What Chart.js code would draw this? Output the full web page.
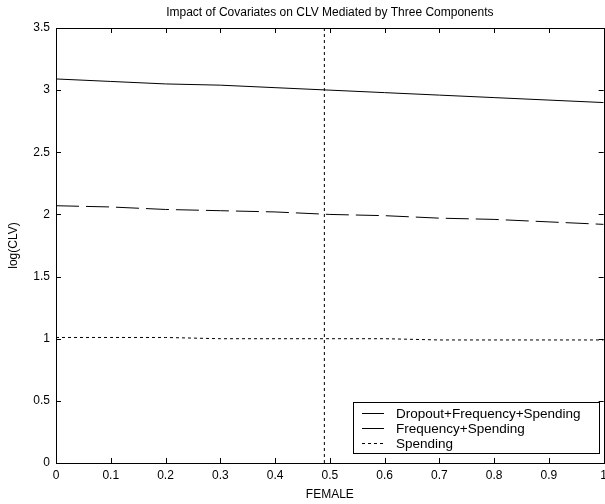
<!DOCTYPE html>
<html>
<head>
<meta charset="utf-8">
<script src="https://cdn.jsdelivr.net/npm/chart.js@4/dist/chart.umd.min.js"></script>
<style>
html,body{margin:0;padding:0;background:#fff;overflow:hidden;}
#wrap{position:absolute;left:0;top:0;width:612px;height:504px;}
</style>
</head>
<body>
<div id="wrap"><canvas id="c" width="612" height="504"></canvas></div>
<script>
// ---- data ----
const femaleValues = [0, 0.1, 0.2, 0.3, 0.4, 0.5, 0.6, 0.7, 0.8, 0.9, 1.0];
const dropoutFreqSpend = [3.09, 3.07, 3.05, 3.04, 3.02, 3.00, 2.98, 2.96, 2.94, 2.92, 2.90];
const freqSpend        = [2.07, 2.06, 2.04, 2.03, 2.02, 2.00, 1.99, 1.97, 1.96, 1.94, 1.92];
const spending         = [1.01, 1.01, 1.01, 1.00, 1.00, 1.00, 1.00, 0.99, 0.99, 0.99, 0.99];
const seriesNames = ['Dropout+Frequency+Spending', 'Frequency+Spending', 'Spending'];
const markerX = [0.49, 0.49];
const markerY = [0, 3.5];
const xTickLabels = ['0','0.1','0.2','0.3','0.4','0.5','0.6','0.7','0.8','0.9','1'];
const yTickLabels = ['0','0.5','1','1.5','2','2.5','3','3.5'];
const titleText = 'Impact of Covariates on CLV Mediated by Three Components';
const xTitle = 'FEMALE';
const yTitle = 'log(CLV)';

const toXY = (xs, ys) => xs.map((x, i) => ({x: x, y: ys[i]}));
const FONT = '"Liberation Sans", Arial, sans-serif';
Chart.defaults.color = '#000';
Chart.defaults.font.family = FONT;
Chart.defaults.font.size = 12;

const frameAndLegend = {
  id: 'frameAndLegend',
  afterDatasetsDraw(chart) {
    const {ctx, chartArea: a, scales: {x, y}} = chart;
    ctx.save();
    ctx.strokeStyle = '#000';
    ctx.lineWidth = 1;
    ctx.setLineDash([]);
    // frame
    ctx.strokeRect(Math.round(a.left) + 0.5, Math.round(a.top) + 0.5,
                   Math.round(a.right - a.left), Math.round(a.bottom - a.top));
    // inward ticks
    const tl = 5;
    ctx.beginPath();
    x.ticks.forEach(t => {
      const px = Math.round(x.getPixelForValue(t.value)) + 0.5;
      ctx.moveTo(px, a.bottom); ctx.lineTo(px, a.bottom - tl);
      ctx.moveTo(px, a.top); ctx.lineTo(px, a.top + tl);
    });
    y.ticks.forEach(t => {
      const py = Math.round(y.getPixelForValue(t.value)) + 0.5;
      ctx.moveTo(a.left, py); ctx.lineTo(a.left + tl, py);
      ctx.moveTo(a.right, py); ctx.lineTo(a.right - tl, py);
    });
    ctx.stroke();
    // legend box
    const bx = 353.5, by = 402.5, bw = 246, bh = 51;
    ctx.fillStyle = '#fff';
    ctx.fillRect(bx, by, bw, bh);
    ctx.strokeRect(bx, by, bw, bh);
    ctx.font = '13.5px ' + FONT;
    ctx.textBaseline = 'middle';
    ctx.textAlign = 'left';
    const rows = [413.5, 428.5, 443.5];
    chart.data.datasets.forEach((ds, i) => {
      if (ds.hideInLegend) return;
      ctx.setLineDash(ds.borderDash || []);
      ctx.beginPath();
      ctx.moveTo(362, rows[i]); ctx.lineTo(384, rows[i]);
      ctx.stroke();
      ctx.setLineDash([]);
      ctx.fillStyle = '#000';
      ctx.fillText(ds.label, 396, rows[i] + 0.5);
    });
    ctx.restore();
  }
};

new Chart(document.getElementById('c'), {
  type: 'line',
  data: {
    datasets: [
      {label: seriesNames[0], data: toXY(femaleValues, dropoutFreqSpend),
       borderColor: '#000', borderWidth: 1, pointRadius: 0, borderDash: []},
      {label: seriesNames[1], data: toXY(femaleValues, freqSpend),
       borderColor: '#000', borderWidth: 1, pointRadius: 0, borderDash: [23, 7]},
      {label: seriesNames[2], data: toXY(femaleValues, spending),
       borderColor: '#000', borderWidth: 1, pointRadius: 0, borderDash: [3, 3]},
      {label: 'marker', data: toXY(markerX, markerY), hideInLegend: true,
       borderColor: '#000', borderWidth: 1, pointRadius: 0, borderDash: [3, 3]}
    ]
  },
  options: {
    responsive: false,
    animation: false,
    layout: {padding: {left: 0, right: 6, top: 0, bottom: 0}},
    plugins: {
      legend: {display: false},
      tooltip: {enabled: false},
      title: {display: true, text: titleText, fullSize: false,
              font: {size: 12, weight: 'normal'}, color: '#000',
              padding: {top: 5, bottom: 8.6}}
    },
    scales: {
      x: {
        type: 'linear', min: 0, max: 1,
        grid: {display: false, drawTicks: false},
        border: {display: false},
        ticks: {stepSize: 0.1, padding: 5, maxRotation: 0, autoSkip: false,
                callback: (v, i) => xTickLabels[i]},
        title: {display: true, text: xTitle, padding: {top: 0, bottom: 2.5}},
        afterFit: s => { s.height = 41; }
      },
      y: {
        type: 'linear', min: 0, max: 3.5,
        grid: {display: false, drawTicks: false},
        border: {display: false},
        ticks: {stepSize: 0.5, padding: 6, callback: (v, i) => yTickLabels[i]},
        title: {display: true, text: yTitle, padding: {top: 6.8, bottom: 0}},
        afterFit: s => { s.width = 56; }
      }
    }
  },
  plugins: [frameAndLegend]
});
</script>
</body>
</html>
